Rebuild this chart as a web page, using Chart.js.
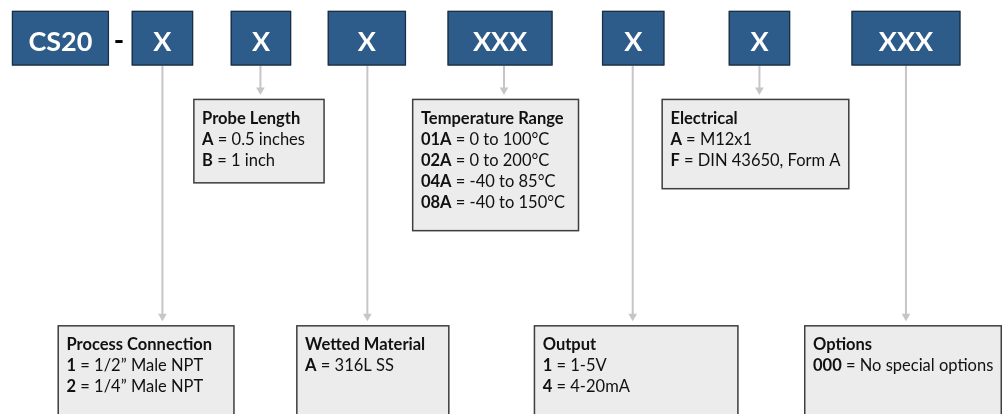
<!DOCTYPE html>
<html>
<head>
<meta charset="utf-8">
<script src="https://cdn.jsdelivr.net/npm/chart.js@4/dist/chart.umd.min.js"></script>
<style>
  html, body { margin: 0; padding: 0; background: #fff; }
  canvas { display: block; }
</style>
</head>
<body>
<canvas id="codeChart" width="1008" height="414"></canvas>
<script>
// part number segments
const codes = ['CS20', 'X', 'X', 'X', 'XXX', 'X', 'X', 'XXX'];

// one field per segment after CS20
const fields = ['Process Connection', 'Probe Length', 'Wetted Material', 'Temperature Range', 'Output', 'Electrical', 'Options'];
const optionCodes = [
    ['1', '2'],
    ['A', 'B'],
    ['A'],
    ['01A', '02A', '04A', '08A'],
    ['1', '4'],
    ['A', 'F'],
    ['000']
];
const optionText = [
    ['1/2\u201D Male NPT', '1/4\u201D Male NPT'],
    ['0.5 inches', '1 inch'],
    ['316L SS'],
    ['0 to 100°C', '0 to 200°C', '-40 to 85°C', '-40 to 150°C'],
    ['1-5V', '4-20mA'],
    ['M12x1', 'DIN 43650, Form A'],
    ['No special options']
];

// layout (in scale units = page pixels)
const codeBoxX = [[7, 105], [128, 190], [228, 289], [326, 405], [447, 553], [603, 666], [731, 793], [855, 965]];
const codeBoxY = [6, 62];
const fieldBoxes = [
    [53, 232, 328, 440],
    [190, 323, 96, 183],
    [294, 449, 328, 440],
    [411, 580, 96, 232],
    [534, 741, 328, 440],
    [663, 853, 96, 189],
    [807, 1007, 328, 440]
];
const connectorX = [159, 258, 366, 504, 634, 762, 910];

const FONT = 'Lato, "Open Sans", sans-serif';
const TEXT_SIZE = 16.5;

const connectors = connectorX.map((x, i) => {
    const endY = fieldBoxes[i][2] - 9;
    return {
        data: [{ x: x, y: codeBoxY[1] }, { x: x, y: endY }],
        showLine: true,
        borderColor: '#c6c6c6',
        borderWidth: 2,
        pointStyle: 'triangle',
        rotation: 180,
        pointRadius: [0, 5],
        pointBackgroundColor: '#c6c6c6',
        pointBorderColor: '#c6c6c6',
        pointBorderWidth: 0
    };
});

const boxesPlugin = {
    id: 'boxes',
    afterDatasetsDraw(chart) {
        const ctx = chart.ctx;
        const sx = chart.scales.x, sy = chart.scales.y;
        const px = v => sx.getPixelForValue(v);
        const py = v => sy.getPixelForValue(v);
        ctx.save();

        // code boxes
        codes.forEach((code, i) => {
            const x0 = px(codeBoxX[i][0]), x1 = px(codeBoxX[i][1]);
            const y0 = py(codeBoxY[0]), y1 = py(codeBoxY[1]);
            ctx.fillStyle = '#2d5b8a';
            ctx.fillRect(x0, y0, x1 - x0, y1 - y0);
            ctx.strokeStyle = '#1b2c3d';
            ctx.lineWidth = 1.2;
            ctx.strokeRect(x0 + 0.5, y0 + 0.5, x1 - x0 - 1, y1 - y0 - 1);
            ctx.fillStyle = '#ffffff';
            ctx.font = 'bold 27px ' + FONT;
            ctx.textAlign = 'center';
            ctx.textBaseline = 'alphabetic';
            ctx.fillText(code, (x0 + x1) / 2, py(47));
        });

        // dash after CS20
        ctx.fillStyle = '#000';
        ctx.font = 'bold 28px ' + FONT;
        ctx.textAlign = 'center';
        ctx.fillText('-', px(115), py(46));

        // field boxes
        fieldBoxes.forEach((b, i) => {
            const x0 = px(b[0]), x1 = px(b[1]), y0 = py(b[2]), y1 = py(b[3]);
            ctx.fillStyle = '#ececec';
            ctx.fillRect(x0, y0, x1 - x0, y1 - y0);
            ctx.strokeStyle = '#3f3f3f';
            ctx.lineWidth = 1.5;
            ctx.strokeRect(x0 + 0.75, y0 + 0.75, x1 - x0 - 1.5, y1 - y0 - 1.5);

            const tx = x0 + 9;
            let ty = y0 + 25;
            ctx.textAlign = 'left';
            ctx.fillStyle = '#111';
            ctx.font = 'bold ' + TEXT_SIZE + 'px ' + FONT;
            ctx.fillText(fields[i], tx, ty);
            optionCodes[i].forEach((oc, j) => {
                ty += 21;
                ctx.font = 'bold ' + TEXT_SIZE + 'px ' + FONT;
                ctx.fillText(oc, tx, ty);
                const w = ctx.measureText(oc).width;
                ctx.font = TEXT_SIZE + 'px ' + FONT;
                ctx.fillText(' = ' + optionText[i][j], tx + w, ty);
            });
        });
        ctx.restore();
    }
};

new Chart(document.getElementById('codeChart'), {
    type: 'scatter',
    data: { datasets: connectors },
    options: {
        responsive: false,
        animation: false,
        layout: { padding: 0 },
        plugins: {
            legend: { display: false },
            tooltip: { enabled: false }
        },
        scales: {
            x: { type: 'linear', min: 0, max: 1008, display: false },
            y: { type: 'linear', min: 0, max: 414, reverse: true, display: false }
        }
    },
    plugins: [boxesPlugin]
});
</script>
</body>
</html>
